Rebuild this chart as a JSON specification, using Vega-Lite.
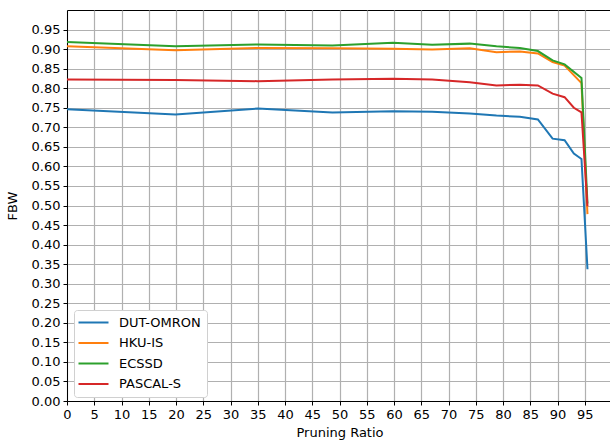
{
  "$schema": "https://vega.github.io/schema/vega-lite/v6.json",
  "width": 545,
  "height": 391,
  "autosize": {"type": "none"},
  "padding": {"left": 67, "top": 10, "right": 0, "bottom": 39},
  "background": "white",
  "config": {
    "font": "DejaVu Sans",
    "view": {"stroke": "black", "strokeWidth": 1},
    "axis": {
      "labelFont": "DejaVu Sans",
      "titleFont": "DejaVu Sans",
      "labelFontSize": 13,
      "titleFontSize": 13,
      "titleFontWeight": "normal",
      "labelColor": "#000",
      "titleColor": "#000",
      "domainColor": "#000",
      "tickColor": "#000",
      "tickSize": 4,
      "gridColor": "#b0b0b0",
      "gridWidth": 1.2,
      "gridOpacity": 1
    }
  },
  "data": {
    "values": [
      {"s": "DUT-OMRON", "x": 0, "y": 0.746},
      {"s": "DUT-OMRON", "x": 19.9, "y": 0.733},
      {"s": "DUT-OMRON", "x": 35, "y": 0.748},
      {"s": "DUT-OMRON", "x": 48.7, "y": 0.738},
      {"s": "DUT-OMRON", "x": 59.8, "y": 0.741},
      {"s": "DUT-OMRON", "x": 67, "y": 0.740},
      {"s": "DUT-OMRON", "x": 73.9, "y": 0.735},
      {"s": "DUT-OMRON", "x": 78.8, "y": 0.730},
      {"s": "DUT-OMRON", "x": 83.1, "y": 0.727},
      {"s": "DUT-OMRON", "x": 86.4, "y": 0.720},
      {"s": "DUT-OMRON", "x": 89.1, "y": 0.671},
      {"s": "DUT-OMRON", "x": 91.3, "y": 0.667},
      {"s": "DUT-OMRON", "x": 93, "y": 0.633},
      {"s": "DUT-OMRON", "x": 94.4, "y": 0.619},
      {"s": "DUT-OMRON", "x": 95.5, "y": 0.337},
      {"s": "HKU-IS", "x": 0, "y": 0.907},
      {"s": "HKU-IS", "x": 19.9, "y": 0.897},
      {"s": "HKU-IS", "x": 35, "y": 0.903},
      {"s": "HKU-IS", "x": 48.7, "y": 0.902},
      {"s": "HKU-IS", "x": 59.8, "y": 0.901},
      {"s": "HKU-IS", "x": 67, "y": 0.899},
      {"s": "HKU-IS", "x": 73.9, "y": 0.902},
      {"s": "HKU-IS", "x": 78.8, "y": 0.892},
      {"s": "HKU-IS", "x": 83.1, "y": 0.894},
      {"s": "HKU-IS", "x": 86.4, "y": 0.889},
      {"s": "HKU-IS", "x": 89.1, "y": 0.867},
      {"s": "HKU-IS", "x": 91.3, "y": 0.858},
      {"s": "HKU-IS", "x": 94.4, "y": 0.813},
      {"s": "HKU-IS", "x": 95.5, "y": 0.478},
      {"s": "ECSSD", "x": 0, "y": 0.918},
      {"s": "ECSSD", "x": 19.9, "y": 0.907},
      {"s": "ECSSD", "x": 35, "y": 0.912},
      {"s": "ECSSD", "x": 48.7, "y": 0.909},
      {"s": "ECSSD", "x": 59.8, "y": 0.916},
      {"s": "ECSSD", "x": 67, "y": 0.911},
      {"s": "ECSSD", "x": 73.9, "y": 0.914},
      {"s": "ECSSD", "x": 78.8, "y": 0.907},
      {"s": "ECSSD", "x": 83.1, "y": 0.903},
      {"s": "ECSSD", "x": 86.4, "y": 0.895},
      {"s": "ECSSD", "x": 89.1, "y": 0.871},
      {"s": "ECSSD", "x": 91.3, "y": 0.861},
      {"s": "ECSSD", "x": 94.4, "y": 0.826},
      {"s": "ECSSD", "x": 95.5, "y": 0.505},
      {"s": "PASCAL-S", "x": 0, "y": 0.822},
      {"s": "PASCAL-S", "x": 19.9, "y": 0.821},
      {"s": "PASCAL-S", "x": 35, "y": 0.818},
      {"s": "PASCAL-S", "x": 48.7, "y": 0.822},
      {"s": "PASCAL-S", "x": 59.8, "y": 0.824},
      {"s": "PASCAL-S", "x": 67, "y": 0.822},
      {"s": "PASCAL-S", "x": 73.9, "y": 0.815},
      {"s": "PASCAL-S", "x": 78.8, "y": 0.807},
      {"s": "PASCAL-S", "x": 83.1, "y": 0.809},
      {"s": "PASCAL-S", "x": 86.4, "y": 0.807},
      {"s": "PASCAL-S", "x": 89.1, "y": 0.786},
      {"s": "PASCAL-S", "x": 91.3, "y": 0.777},
      {"s": "PASCAL-S", "x": 93, "y": 0.750},
      {"s": "PASCAL-S", "x": 94.4, "y": 0.738},
      {"s": "PASCAL-S", "x": 95.5, "y": 0.498}
    ]
  },
  "mark": {"type": "line", "strokeWidth": 2, "clip": true},
  "encoding": {
    "x": {
      "field": "x", "type": "quantitative",
      "scale": {"domain": [0, 100], "nice": false, "zero": false},
      "axis": {"title": "Pruning Ratio", "values": [0,5,10,15,20,25,30,35,40,45,50,55,60,65,70,75,80,85,90,95], "format": "d", "labelFlush": false, "titlePadding": 5, "labelPadding": 3}
    },
    "y": {
      "field": "y", "type": "quantitative",
      "scale": {"domain": [0, 1], "nice": false},
      "axis": {"title": "FBW", "values": [0,0.05,0.1,0.15,0.2,0.25,0.3,0.35,0.4,0.45,0.5,0.55,0.6,0.65,0.7,0.75,0.8,0.85,0.9,0.95], "format": ".2f", "labelFlush": false, "titlePadding": 12, "labelPadding": 3}
    },
    "color": {
      "field": "s", "type": "nominal",
      "scale": {"domain": ["DUT-OMRON", "HKU-IS", "ECSSD", "PASCAL-S"], "range": ["#1f77b4", "#ff7f0e", "#2ca02c", "#d62728"]},
      "legend": {
        "title": null,
        "orient": "none",
        "legendX": 7,
        "legendY": 300,
        "symbolType": "M-3,0H3",
        "symbolSize": 100,
        "symbolOffset": 7,
        "symbolStrokeWidth": 2,
        "labelFontSize": 13,
        "labelFont": "DejaVu Sans",
        "labelColor": "#000",
        "rowPadding": 6.5,
        "padding": 6,
        "fillColor": "white",
        "strokeColor": "#d0d0d0",
        "cornerRadius": 3,
        "labelOffset": 19
      }
    },
    "order": {"field": "x", "type": "quantitative"}
  }
}
